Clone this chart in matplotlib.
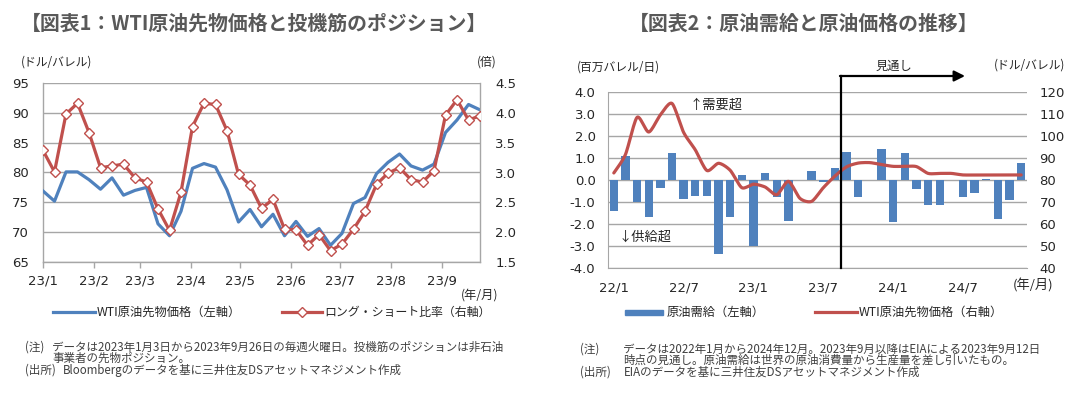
import matplotlib
matplotlib.use('Agg')
import matplotlib.pyplot as plt
from matplotlib.lines import Line2D
from matplotlib.patches import Rectangle
import numpy as np
import pandas as pd

plt.rcParams['font.family'] = ['Noto Sans CJK JP', 'DejaVu Sans']

# ---------------- data: chart 1 (weekly, 2023/1/3 - 2023/9/26) ----------------
first_week = '2023-01-03'
wti_weekly = [76.9, 75.2, 80.1, 80.1, 78.8, 77.2, 79.1, 76.2, 77.0, 77.5,
              71.4, 69.4, 73.5, 80.7, 81.5, 80.9, 77.1, 71.7, 73.8, 70.9,
              73.0, 69.4, 71.8, 69.3, 70.6, 67.8, 69.8, 74.8, 75.8, 79.8,
              81.7, 83.1, 81.1, 80.4, 81.4, 86.7, 88.8, 91.4, 90.5]
long_short_ratio = [3.37, 3.01, 3.98, 4.16, 3.67, 3.08, 3.11, 3.14, 2.91, 2.84,
                    2.39, 2.03, 2.67, 3.77, 4.16, 4.14, 3.70, 2.97, 2.79, 2.40,
                    2.55, 2.05, 2.04, 1.78, 1.96, 1.69, 1.80, 2.05, 2.35, 2.80,
                    2.99, 3.08, 2.88, 2.84, 3.03, 3.96, 4.22, 3.88, 3.95]
c1_xticklabels = ['23/1', '23/2', '23/3', '23/4', '23/5', '23/6', '23/7', '23/8', '23/9']
c1_left_ticks = [65, 70, 75, 80, 85, 90, 95]
c1_right_ticks = [1.5, 2.0, 2.5, 3.0, 3.5, 4.0, 4.5]

# ---------------- data: chart 2 (monthly, 2022/1 - 2024/12) ----------------
months = [f"{y % 100}/{m}" for y in (2022, 2023, 2024) for m in range(1, 13)]
supply_demand = [-1.42, 1.07, -1.01, -1.66, -0.36, 1.21, -0.86, -0.72, -0.72, -3.36,
                 -1.66, 0.25, -2.98, 0.34, -0.78, -1.88, 0.01, 0.42, -0.11, 0.55,
                 1.26, -0.75, 0.01, 1.41, -1.92, 1.23, -0.40, -1.14, -1.14, 0.01,
                 -0.78, -0.58, 0.05, -1.77, -0.91, 0.78]
wti_monthly = [83.2, 91.6, 108.5, 101.8, 109.6, 114.8, 101.6, 93.7, 84.3, 87.6,
               84.4, 76.5, 78.1, 76.8, 73.3, 79.4, 71.6, 70.3, 76.5, 81.8,
               86.0, 87.7, 87.9, 87.0, 86.2, 86.2, 86.1, 83.0, 83.0, 83.0,
               82.3, 82.3, 82.3, 82.3, 82.3, 82.3]
forecast_start = '23/9'
c2_xticklabels = ['22/1', '22/7', '23/1', '23/7', '24/1', '24/7']
c2_left_ticks = [-4.0, -3.0, -2.0, -1.0, 0.0, 1.0, 2.0, 3.0, 4.0]
c2_right_ticks = [40, 50, 60, 70, 80, 90, 100, 110, 120]

# ---------------- style ----------------
W, H = 1087, 397
BLUE = '#4F81BD'
RED = '#C0504D'
GRID = '#A6A6A6'
TXT = '#262626'
NOTE = '#404040'
TITLE = '#595959'
NUMFONT = 'DejaVu Sans'
NOTE_FS = 8.3

fig = plt.figure(figsize=(W / 100, H / 100), dpi=100)
fig.patch.set_facecolor('white')


def fx(x):
    return x / W


def fy(y):
    return 1 - y / H


def ftext(x, y, s, **kw):
    kw.setdefault('color', TXT)
    kw.setdefault('va', 'center')
    fig.text(fx(x), fy(y), s, **kw)


def smooth(x, y, n=12):
    P = np.column_stack([np.asarray(x, float), np.asarray(y, float)])
    out = [P[0]]
    t = np.linspace(0, 1, n + 1)[1:, None]
    for i in range(len(P) - 1):
        p0 = P[i - 1] if i > 0 else P[i]
        p1, p2 = P[i], P[i + 1]
        p3 = P[i + 2] if i + 2 < len(P) else P[i + 1]
        c1 = p1 + (p2 - p0) / 8
        c2 = p2 - (p3 - p1) / 8
        seg = (1 - t) ** 3 * p1 + 3 * (1 - t) ** 2 * t * c1 + 3 * (1 - t) * t ** 2 * c2 + t ** 3 * p2
        out.extend(seg)
    out = np.array(out)
    return out[:, 0], out[:, 1]


# ================= Chart 1 =================
ax1 = fig.add_axes([fx(43), fy(262), fx(480) - fx(43), fy(83) - fy(262)])
ax1b = ax1.twinx()
dates = pd.date_range(first_week, periods=len(wti_weekly), freq='7D')
xt = [pd.Timestamp(2023, int(s.split('/')[1]), 3) for s in c1_xticklabels]

ax1.plot(dates, wti_weekly, color=BLUE, lw=2.3, solid_joinstyle='round', zorder=3)
ax1b.plot(dates, long_short_ratio, color=RED, lw=2.3, marker='D', ms=5.5,
          mfc='white', mec=RED, mew=1.0, solid_joinstyle='round', zorder=4)

ax1.set_xlim(dates[0], dates[-1])
ax1.set_ylim(65, 95)
ax1b.set_ylim(1.5, 4.5)
ax1.set_yticks(c1_left_ticks)
ax1.set_yticklabels([str(v) for v in c1_left_ticks])
ax1b.set_yticks(c1_right_ticks)
ax1b.set_yticklabels([f"{v:.1f}" for v in c1_right_ticks])
ax1.set_xticks(xt)
ax1.set_xticklabels(c1_xticklabels)
ax1.yaxis.grid(True, color=GRID, lw=1.0)
ax1.set_axisbelow(True)
for a in (ax1, ax1b):
    for s in a.spines.values():
        s.set_color(GRID)
        s.set_linewidth(1.0)
    a.spines['top'].set_visible(False)
ax1b.spines['left'].set_visible(False)
ax1b.spines['bottom'].set_visible(False)
ax1.spines['right'].set_visible(False)
ax1.tick_params(axis='x', length=4, width=1, color=GRID, pad=5, labelsize=9.5,
                labelcolor=TXT, labelfontfamily=NUMFONT)
ax1.tick_params(axis='y', length=0, pad=10, labelsize=9.5, labelcolor=TXT,
                labelfontfamily=NUMFONT)
ax1b.tick_params(axis='y', length=0, pad=11, labelsize=9.5, labelcolor=TXT,
                 labelfontfamily=NUMFONT)

ftext(254, 23, '【図表1：WTI原油先物価格と投機筋のポジション】', ha='center',
      fontsize=14.3, fontweight='bold', color=TITLE)
ftext(57, 62, '(ドル/バレル)', ha='center', fontsize=8.5)
ftext(487, 62, '(倍)', ha='center', fontsize=8.5)
ftext(480, 295, '(年/月)', ha='center', fontsize=8.8)

# legend chart 1
fig.add_artist(Line2D([fx(53), fx(95)], [fy(312), fy(312)], color=BLUE, lw=2.3))
ftext(97, 312, 'WTI原油先物価格（左軸）', ha='left', fontsize=8.8)
fig.add_artist(Line2D([fx(282), fx(322)], [fy(312), fy(312)], color=RED, lw=2.3))
fig.add_artist(Line2D([fx(302)], [fy(312)], marker='D', ms=5, mfc='white', mec=RED,
                      mew=1.0, lw=0))
ftext(324, 312, 'ロング・ショート比率（右軸）', ha='left', fontsize=8.6)

# notes chart 1
ftext(25, 347, '(注)', ha='left', fontsize=NOTE_FS, color=NOTE)
ftext(52, 347, 'データは2023年1月3日から2023年9月26日の毎週火曜日。投機筋のポジションは非石油',
      ha='left', fontsize=NOTE_FS, color=NOTE)
ftext(52, 358.5, '事業者の先物ポジション。', ha='left', fontsize=NOTE_FS, color=NOTE)
ftext(25, 370.5, '(出所)', ha='left', fontsize=NOTE_FS, color=NOTE)
ftext(63, 370.5, 'Bloombergのデータを基に三井住友DSアセットマネジメント作成', ha='left',
      fontsize=NOTE_FS, color=NOTE)

# ================= Chart 2 =================
ax2 = fig.add_axes([fx(608), fy(268), fx(1027) - fx(608), fy(92) - fy(268)])
ax2b = ax2.twinx()
xpos = np.arange(len(months))
ax2.bar(xpos, supply_demand, width=0.72, color=BLUE, zorder=3)
sx, sy = smooth(xpos, wti_monthly)
ax2b.plot(sx, sy, color=RED, lw=2.3, solid_capstyle='round', zorder=4)

ax2.set_xlim(-0.5, len(months) - 0.5)
ax2.set_ylim(-4, 4)
ax2b.set_ylim(40, 120)
ax2.set_yticks(c2_left_ticks)
ax2.set_yticklabels([f"{v:.1f}" for v in c2_left_ticks])
ax2b.set_yticks(c2_right_ticks)
ax2b.set_yticklabels([str(v) for v in c2_right_ticks])
ax2.set_xticks([months.index(m) for m in c2_xticklabels])
ax2.set_xticklabels(c2_xticklabels)
ax2.yaxis.grid(True, color=GRID, lw=1.0)
ax2.set_axisbelow(True)
for a in (ax2, ax2b):
    for s in a.spines.values():
        s.set_visible(False)
ax2.spines['left'].set_visible(True)
ax2.spines['left'].set_color(GRID)
ax2.spines['bottom'].set_visible(True)
ax2.spines['bottom'].set_color(GRID)
ax2.tick_params(axis='x', length=0, pad=10, labelsize=9.5, labelcolor=TXT,
                labelfontfamily=NUMFONT)
ax2.tick_params(axis='y', length=0, pad=9, labelsize=9.5, labelcolor=TXT,
                labelfontfamily=NUMFONT)
ax2b.tick_params(axis='y', length=0, pad=9, labelsize=9.5, labelcolor=TXT,
                 labelfontfamily=NUMFONT)

# forecast marker
fpos = months.index(forecast_start) - 0.5
xf = (fpos + 0.5) / len(months)
y_top = (268 - 76) / 176
x_arrow_end = (965 - 608) / 419
ax2b.plot([xf, xf], [0, y_top], transform=ax2b.transAxes, color='black', lw=1.6,
          clip_on=False, zorder=6)
ax2b.annotate('', xy=(x_arrow_end, y_top), xytext=(xf - 0.002, y_top),
              xycoords='axes fraction', textcoords='axes fraction',
              arrowprops=dict(arrowstyle='-|>', color='black', lw=1.6,
                              mutation_scale=16, shrinkA=0, shrinkB=0),
              annotation_clip=False, zorder=6)
ftext(894, 66, '見通し', ha='center', fontsize=8.8)

ftext(716, 105, '↑需要超', ha='center', fontsize=9.5)
ftext(645, 237, '↓供給超', ha='center', fontsize=9.5)

ftext(804, 23, '【図表2：原油需給と原油価格の推移】', ha='center',
      fontsize=14.3, fontweight='bold', color=TITLE)
ftext(618, 67, '(百万バレル/日)', ha='center', fontsize=8.5)
ftext(1030, 65, '(ドル/バレル)', ha='center', fontsize=8.5)
ftext(1033, 286, '(年/月)', ha='center', fontsize=9.5)

# legend chart 2
fig.add_artist(Rectangle((fx(625), fy(314.5)), fx(663) - fx(625), fy(309.5) - fy(314.5),
                         transform=fig.transFigure, color=BLUE))
ftext(667, 312, '原油需給（左軸）', ha='left', fontsize=8.8)
fig.add_artist(Line2D([fx(815), fx(857)], [fy(312), fy(312)], color=RED, lw=2.3))
ftext(859, 312, 'WTI原油先物価格（右軸）', ha='left', fontsize=8.8)

# notes chart 2
ftext(580, 349, '(注)', ha='left', fontsize=NOTE_FS, color=NOTE)
ftext(623, 349, 'データは2022年1月から2024年12月。2023年9月以降はEIAによる2023年9月12日',
      ha='left', fontsize=NOTE_FS, color=NOTE)
ftext(623, 360.5, '時点の見通し。原油需給は世界の原油消費量から生産量を差し引いたもの。',
      ha='left', fontsize=NOTE_FS, color=NOTE)
ftext(580, 372.5, '(出所)', ha='left', fontsize=NOTE_FS, color=NOTE)
ftext(624, 372.5, 'EIAのデータを基に三井住友DSアセットマネジメント作成', ha='left',
      fontsize=NOTE_FS, color=NOTE)

fig.savefig('out.png', dpi=100, facecolor='white')
